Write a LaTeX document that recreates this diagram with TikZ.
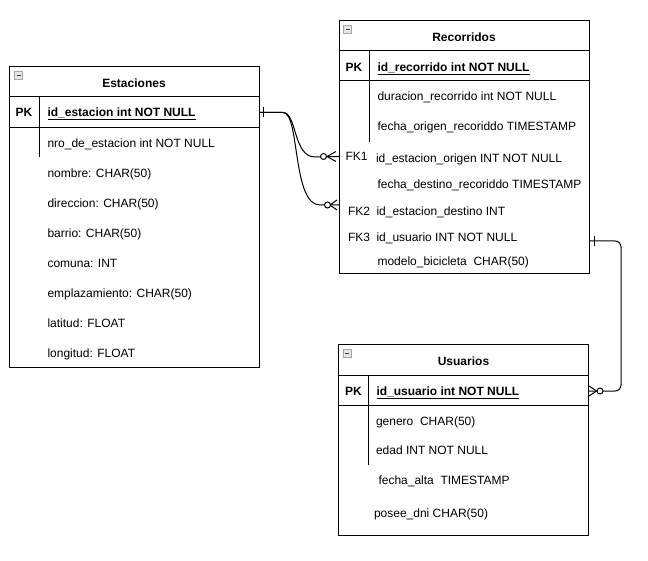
\documentclass[tikz,border=0pt]{standalone}
\usepackage{fontspec}
\setmainfont{Liberation Sans}
\begin{document}
\begin{tikzpicture}[x=1pt,y=-1pt,line width=1pt,
  every node/.style={inner sep=0pt, outer sep=0pt},
  tablebox/.style={draw, rectangle, anchor=north west},
  ttl/.style={font=\fontsize{12}{14}\selectfont\bfseries, text height=8.6pt, text depth=0pt},
  fld/.style={anchor=west, font=\fontsize{12}{14}\selectfont, text height=8.6pt, text depth=0pt},
  pkfld/.style={anchor=west, font=\fontsize{12}{14}\selectfont\bfseries, text height=8.6pt, text depth=0pt},
  keytag/.style={anchor=west, font=\fontsize{12}{14}\selectfont, text height=8.6pt, text depth=0pt},
  pktag/.style={font=\fontsize{12}{14}\selectfont\bfseries, text height=8.6pt, text depth=0pt},
  zero/.style={draw, fill=white, circle, minimum size=6pt},
  collapse/.pic={
    \draw[line width=0.6pt, draw=gray!70, fill=gray!20] (0,0) rectangle (8,8);
    \draw[line width=1pt, draw=black!75] (2,4) -- (6,4);
  }
]
\useasboundingbox (0,0) rectangle (648,561);

% ---------- Estaciones ----------
\node[tablebox, minimum width=250pt, minimum height=300pt] (est) at (9,67) {};
\pic at ([xshift=5.5pt,yshift=-4.5pt]est.north west) {collapse};
\draw (9,97) -- (259,97);
\draw (9,127.5) -- (259,127.5);
\draw (39,97) -- (39,157);
\node[ttl] (estT) at (134,83) {Estaciones};
\node[pktag] (estPKtag) at (24,112.5) {PK};
\node[pkfld] (estPK) at (47.5,112.5) {\underline{id\_estacion int NOT NULL}};
\node[fld] (estF1) at (47.5,143) {nro\_de\_estacion int NOT NULL};
\node[fld] (estF2) at (47.5,173) {nombre: CHAR(50)};
\node[fld] (estF3) at (47.5,203) {direccion: CHAR(50)};
\node[fld] (estF4) at (47.5,233) {barrio: CHAR(50)};
\node[fld] (estF5) at (47.5,263) {comuna: INT};
\node[fld] (estF6) at (47.5,293) {emplazamiento: CHAR(50)};
\node[fld] (estF7) at (47.5,323) {latitud: FLOAT};
\node[fld] (estF8) at (47.5,353) {longitud: FLOAT};

% ---------- Recorridos ----------
\node[tablebox, minimum width=250pt, minimum height=253pt] (rec) at (339,21) {};
\pic at ([xshift=4.5pt,yshift=-4.5pt]rec.north west) {collapse};
\draw (339,51) -- (589,51);
\draw (339,81) -- (589,81);
\draw (369,51) -- (369,142);
\node[ttl] (recT) at (464,37) {Recorridos};
\node[pktag] (recPKtag) at (354,67) {PK};
\node[pkfld] (recPK) at (377.5,67) {\underline{id\_recorrido int NOT NULL}};
\node[fld] (recF1) at (377.5,96.5) {duracion\_recorrido int NOT NULL};
\node[fld] (recF2) at (377.5,126.5) {fecha\_origen\_recoriddo TIMESTAMP};
\node[keytag] (recFK1) at (345.5,156.5) {FK1};
\node[fld] (recF3) at (376,158) {id\_estacion\_origen INT NOT NULL};
\node[fld] (recF4) at (377.5,184) {fecha\_destino\_recoriddo TIMESTAMP};
\node[keytag] (recFK2) at (348,211) {FK2};
\node[fld] (recF5) at (376.5,211) {id\_estacion\_destino INT};
\node[keytag] (recFK3) at (348,237.5) {FK3};
\node[fld] (recF6) at (376.5,237.5) {id\_usuario INT NOT NULL};
\node[fld] (recF7) at (377.5,261) {modelo\_bicicleta\ \ CHAR(50)};

% ---------- Usuarios ----------
\node[tablebox, minimum width=250pt, minimum height=190pt] (usr) at (338.5,345) {};
\pic at ([xshift=4.5pt,yshift=-4.5pt]usr.north west) {collapse};
\draw (338.5,375) -- (588.5,375);
\draw (338.5,405) -- (588.5,405);
\draw (368.5,375) -- (368.5,465);
\node[ttl] (usrT) at (463.5,361) {Usuarios};
\node[pktag] (usrPKtag) at (353.5,391) {PK};
\node[pkfld] (usrPK) at (376.5,391) {\underline{id\_usuario int NOT NULL}};
\node[fld] (usrF1) at (376,421) {genero\ \ CHAR(50)};
\node[fld] (usrF2) at (376,450.5) {edad INT NOT NULL};
\node[fld] (usrF3) at (378.5,480.5) {fecha\_alta\ \ TIMESTAMP};
\node[fld] (usrF4) at (374,513) {posee\_dni CHAR(50)};

% ---------- relationships ----------
\coordinate (e1) at (est.east |- estPK.west);
\coordinate (r1) at (rec.west |- recFK1.west);
\coordinate (r2) at (rec.west |- 0,205);
\coordinate (r3) at (rec.east |- 0,241);
\coordinate (u1) at (usr.east |- usrPK.west);

% Estaciones (one) -> Recorridos (zero or many), origin and destination
\draw (e1) -- ++(24,0) .. controls ++(14,0) and (293,157) .. (315,157) -- (r1);
\draw (e1) -- ++(24,0) .. controls ++(17,0) and (292,205) .. (320,205) -- (r2);
\draw (e1) ++(4.5,-5) -- ++(0,10);
\draw (r1) ++(-12,0) -- ++(9,-5) (r1) ++(-12,0) -- ++(9,5);
\path (r1) ++(-15.5,0) node[zero] (o1) {};
\draw (r2) ++(-9,0) -- ++(7,-5) (r2) ++(-9,0) -- ++(7,5);
\path (r2) ++(-11.5,0) node[zero] (o2) {};

% Usuarios (one) -> Recorridos (zero or many)
\draw[rounded corners=6pt] (r3) -- ++(32,0) |- (u1);
\draw (r3) ++(5,-5) -- ++(0,10);
\draw (u1) ++(8,0) -- ++(-7.5,-5) (u1) ++(8,0) -- ++(-7.5,5);
\path (u1) ++(11.5,0) node[zero] (o3) {};
\end{tikzpicture}
\end{document}
